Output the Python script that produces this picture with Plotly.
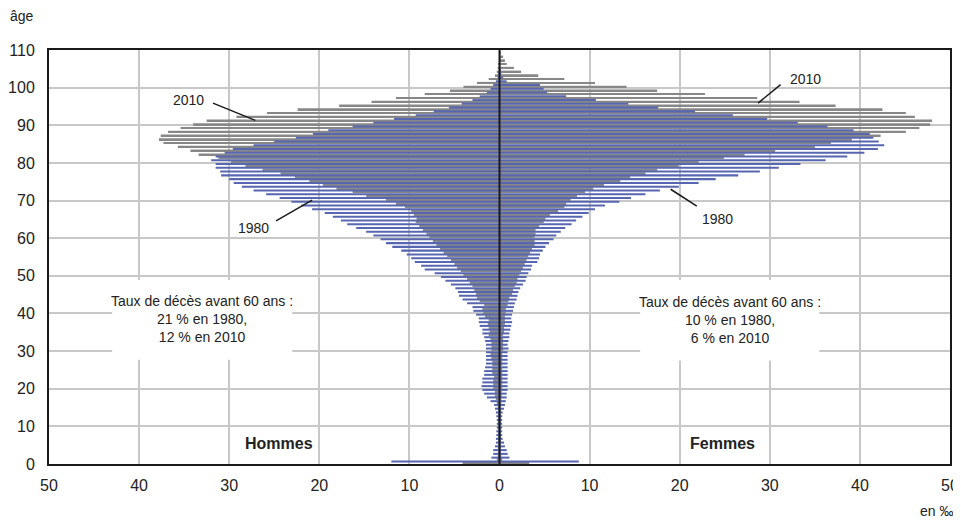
import plotly.graph_objects as go

ages = list(range(0, 111))

# Répartition des décès par âge (en ‰)
hommes_1980 = [
    12.0, 0.9, 0.7, 0.7, 0.5, 0.4, 0.4, 0.35, 0.35, 0.3,
    0.3, 0.3, 0.35, 0.4, 0.5, 0.6, 1.0, 1.4, 1.7, 1.9,
    2.0, 1.9, 1.9, 1.7, 1.7, 1.6, 1.5, 1.5, 1.5, 1.5,
    1.5, 1.5, 1.6, 1.7, 1.9, 1.9, 2.2, 2.3, 2.3, 2.6,
    2.9, 3.0, 3.6, 4.1, 4.5, 4.6, 4.9, 5.4, 6.0, 6.5,
    7.2, 8.3, 8.7, 9.4, 9.8, 10.3, 10.9, 11.9, 12.6, 13.2,
    14.0, 14.8, 15.9, 16.9, 17.6, 18.5, 19.4, 20.8, 22.0, 23.1,
    24.4, 25.9, 27.3, 28.6, 29.5, 30.0, 30.9, 31.0, 31.5, 31.5,
    32.0, 31.5, 30.5, 29.6, 27.3, 25.0, 22.6, 20.7, 19.0, 16.3,
    14.0, 11.7, 9.3, 7.3, 5.6, 4.2, 3.0, 2.2, 1.4, 1.0,
    0.7, 0.4, 0.2, 0.1, 0.05, 0.02, 0.01, 0.0, 0.0, 0.0,
    0.0,
]

hommes_2010 = [
    4.1, 0.3, 0.2, 0.15, 0.1, 0.1, 0.1, 0.1, 0.1, 0.1,
    0.1, 0.1, 0.1, 0.1, 0.15, 0.2, 0.3, 0.4, 0.5, 0.5,
    0.7, 0.7, 0.7, 0.6, 0.8, 0.8, 0.8, 0.8, 0.9, 1.0,
    0.9, 0.9, 0.9, 1.0, 1.2, 1.1, 1.2, 1.3, 1.2, 1.6,
    1.8, 1.9, 1.7, 2.2, 2.5, 2.6, 2.8, 3.0, 3.3, 3.6,
    4.0, 4.3, 4.7, 5.0, 5.4, 5.8, 6.2, 6.6, 7.0, 7.4,
    7.8, 8.1, 8.5, 8.9, 9.3, 9.2, 9.5, 9.8, 10.5, 11.5,
    12.6, 14.8, 16.3, 18.1, 19.6, 21.1, 22.7, 24.3, 26.3, 28.2,
    29.8, 31.2, 33.4, 34.3, 35.7, 37.3, 37.8, 37.6, 36.8, 35.4,
    34.0, 32.5, 29.2, 25.8, 22.4, 17.8, 14.2, 11.5, 8.3, 5.5,
    4.0, 2.5, 1.2, 0.5, 0.3, 0.2, 0.1, 0.05, 0.03, 0.02,
    0.01,
]

femmes_1980 = [
    8.8, 1.1, 0.9, 0.8, 0.6, 0.5, 0.35, 0.3, 0.3, 0.3,
    0.3, 0.3, 0.3, 0.35, 0.5, 0.6, 0.7, 0.8, 0.8, 0.9,
    0.9, 0.9, 0.9, 0.9, 0.9, 0.9, 0.9, 0.9, 0.9, 0.9,
    1.0, 0.9, 1.0, 1.1, 1.1, 1.2, 1.3, 1.4, 1.3, 1.4,
    1.5, 1.6, 1.7, 1.9, 2.0, 2.1, 2.3, 2.6, 2.9, 3.0,
    3.2, 3.5, 3.6, 4.2, 4.4, 4.5, 4.8, 5.1, 5.5, 6.0,
    6.3, 6.8, 7.3, 8.0, 8.5, 9.2, 9.9, 10.6, 11.7, 13.3,
    14.6, 16.2, 17.8, 19.9, 22.1, 24.0, 26.5, 28.9, 31.0, 33.4,
    36.2, 38.6, 40.5, 42.0, 42.7, 42.1, 41.5, 41.1, 39.3, 36.4,
    33.1, 29.7, 25.9, 21.7, 17.6, 14.3, 10.7, 7.4, 5.3, 4.9,
    4.5, 0.8, 0.4, 0.2, 0.1, 0.05, 0.0, 0.0, 0.0, 0.0,
    0.0,
]

femmes_2010 = [
    3.3, 0.3, 0.2, 0.1, 0.1, 0.1, 0.1, 0.1, 0.1, 0.1,
    0.1, 0.1, 0.1, 0.1, 0.1, 0.15, 0.2, 0.2, 0.25, 0.25,
    0.3, 0.3, 0.3, 0.3, 0.3, 0.3, 0.3, 0.3, 0.3, 0.3,
    0.4, 0.4, 0.4, 0.4, 0.4, 0.5, 0.5, 0.6, 0.6, 0.6,
    0.7, 0.7, 0.9, 1.0, 1.1, 1.4, 1.5, 1.7, 1.9, 2.0,
    2.2, 2.4, 2.6, 2.8, 3.0, 3.2, 3.4, 3.6, 3.9, 3.9,
    3.9, 4.0, 4.0, 4.4, 4.9, 5.1, 5.6, 6.5, 7.2, 7.4,
    7.9, 8.6, 9.5, 10.4, 11.6, 13.4, 14.5, 16.2, 17.5, 19.9,
    22.1, 24.9, 27.2, 30.6, 35.0, 36.8, 39.1, 42.3, 45.1, 46.6,
    47.8, 48.0, 46.1, 45.1, 42.5, 37.3, 33.3, 28.6, 22.8, 17.5,
    14.1, 10.6, 7.2, 4.3, 2.4, 1.6, 0.8, 0.6, 0.4, 0.1,
    0.05,
]

x_ticks = [-50, -40, -30, -20, -10, 0, 10, 20, 30, 40, 50]
x_labels = ["50", "40", "30", "20", "10", "0", "10", "20", "30", "40", "50"]
y_ticks = list(range(0, 111, 10))

BLUE = "#5766b0"
GREY = "#878787"
FONT = "Liberation Sans Narrow, Arial Narrow, Liberation Sans, Arial, sans-serif"

fig = go.Figure()

def add(vals, color, name, offset, width, neg):
    fig.add_trace(go.Bar(
        y=ages,
        x=[-v if neg else v for v in vals],
        orientation="h",
        marker=dict(color=color, line=dict(width=0)),
        offset=offset,
        width=width,
        name=name,
        showlegend=False,
        hoverinfo="skip",
    ))

# gris (2010) d'abord, bleu (1980) par-dessus
add(hommes_2010, GREY, "Hommes 2010", 0.05, 0.48, True)
add(femmes_2010, GREY, "Femmes 2010", 0.05, 0.48, False)
add(hommes_1980, BLUE, "Hommes 1980", 0.42, 0.54, True)
add(femmes_1980, BLUE, "Femmes 1980", 0.42, 0.54, False)

# la page ajoute une marge de 8 px : la figure est réduite d'autant
fig.update_layout(
    width=953,
    height=514,
    margin=dict(l=41, r=11, t=42, b=58, autoexpand=False),
    paper_bgcolor="white",
    plot_bgcolor="white",
    barmode="overlay",
    font=dict(family=FONT, size=15, color="#222222"),
)

fig.update_xaxes(
    range=[-50, 50],
    tickvals=x_ticks,
    ticktext=x_labels,
    showgrid=True,
    gridcolor="#c8c8c8",
    gridwidth=1.5,
    zeroline=False,
    showline=True,
    mirror=True,
    linecolor="#1a1a1a",
    linewidth=2,
    ticks="",
    ticklabelstandoff=6,
    tickfont=dict(size=16),
    automargin=False,
)
fig.update_yaxes(
    range=[0, 110],
    tickvals=y_ticks,
    showgrid=True,
    gridcolor="#c8c8c8",
    gridwidth=1.5,
    zeroline=False,
    showline=True,
    mirror=True,
    linecolor="#1a1a1a",
    linewidth=2,
    ticks="",
    ticklabelstandoff=9,
    tickfont=dict(size=16),
    automargin=False,
)

shapes = [
    # axe central
    dict(type="line", xref="x", yref="paper", x0=0, x1=0, y0=0, y1=1,
         line=dict(color="#1a1a1a", width=2), layer="above"),
    # fonds blancs des encadrés
    dict(type="rect", xref="x", yref="y", x0=-43.0, x1=-23.0, y0=27.7, y1=48.9,
         fillcolor="white", line=dict(width=0), layer="above"),
    dict(type="rect", xref="x", yref="y", x0=15.6, x1=35.5, y0=27.5, y1=48.9,
         fillcolor="white", line=dict(width=0), layer="above"),
    # traits de rappel
    dict(type="line", xref="x", yref="y", x0=-31.8, y0=95.9, x1=-27.1, y1=91.3,
         line=dict(color="#1a1a1a", width=1.5), layer="above"),
    dict(type="line", xref="x", yref="y", x0=-24.8, y0=64.6, x1=-20.8, y1=70.1,
         line=dict(color="#1a1a1a", width=1.5), layer="above"),
    dict(type="line", xref="x", yref="y", x0=31.2, y0=100.8, x1=28.7, y1=95.9,
         line=dict(color="#1a1a1a", width=1.5), layer="above"),
    dict(type="line", xref="x", yref="y", x0=21.9, y0=68.5, x1=19.0, y1=73.0,
         line=dict(color="#1a1a1a", width=1.5), layer="above"),
]
fig.update_layout(shapes=shapes)

ann = [
    dict(text="âge", xref="paper", yref="paper", x=-0.030, y=1.082,
         showarrow=False, font=dict(size=14), xanchor="center", yanchor="middle"),
    dict(text="en ‰", xref="paper", yref="paper", x=0.985, y=-0.114,
         showarrow=False, font=dict(size=14), xanchor="center", yanchor="middle"),
    dict(text="2010", x=-34.5, y=96.6, showarrow=False, font=dict(size=14)),
    dict(text="1980", x=-27.3, y=62.6, showarrow=False, font=dict(size=14)),
    dict(text="2010", x=34.0, y=102.4, showarrow=False, font=dict(size=14)),
    dict(text="1980", x=24.2, y=65.1, showarrow=False, font=dict(size=14)),
    dict(text="Taux de décès avant 60 ans :<br>21 % en 1980,<br>12 % en 2010",
         x=-33.0, y=38.4, showarrow=False, font=dict(size=14), align="center"),
    dict(text="Taux de décès avant 60 ans :<br>10 % en 1980,<br>6 % en 2010",
         x=25.6, y=38.2, showarrow=False, font=dict(size=14), align="center"),
    dict(text="<b>Hommes</b>", x=-24.5, y=5.4, showarrow=False, font=dict(size=16)),
    dict(text="<b>Femmes</b>", x=24.8, y=5.4, showarrow=False, font=dict(size=16)),
]
for a in ann:
    a.setdefault("xref", "x")
    a.setdefault("yref", "y")
fig.update_layout(annotations=ann)

fig.write_html("out.html")
